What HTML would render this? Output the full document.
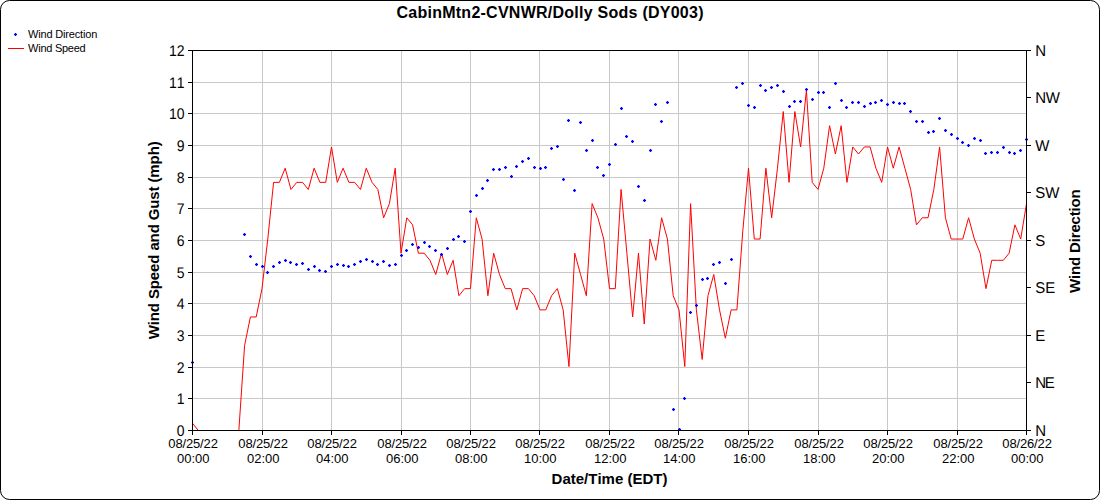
<!DOCTYPE html>
<html><head><meta charset="utf-8"><title>CabinMtn2-CVNWR/Dolly Sods (DY003)</title>
<style>html,body{margin:0;padding:0;background:#fff}body{width:1100px;height:500px;overflow:hidden}svg{display:block}text{font-family:"Liberation Sans",sans-serif;fill:#000;font-kerning:none;font-variant-ligatures:none}</style></head><body>
<svg width="1100" height="500" viewBox="0 0 1100 500">
<rect x="0" y="0" width="1100" height="500" fill="#fff"/>
<rect x="0.5" y="0.5" width="1099" height="499" rx="9" ry="9" fill="none" stroke="#000" stroke-width="1"/>
<path d="M262.5 50.5V430.5M331.5 50.5V430.5M401.5 50.5V430.5M470.5 50.5V430.5M539.5 50.5V430.5M609.5 50.5V430.5M678.5 50.5V430.5M748.5 50.5V430.5M818.5 50.5V430.5M887.5 50.5V430.5M957.5 50.5V430.5M192.5 398.5H1026.5M192.5 367.5H1026.5M192.5 335.5H1026.5M192.5 303.5H1026.5M192.5 272.5H1026.5M192.5 240.5H1026.5M192.5 208.5H1026.5M192.5 177.5H1026.5M192.5 145.5H1026.5M192.5 113.5H1026.5M192.5 82.5H1026.5" stroke="#c8c8c8" stroke-width="1" fill="none" shape-rendering="crispEdges"/>
<polyline points="192.50,423.22 198.29,430.50 204.08,430.50 209.88,430.50 215.67,430.50 221.46,430.50 227.25,430.50 233.04,430.50 238.83,430.50 244.62,345.30 250.42,316.96 256.21,316.96 262.00,288.63 267.79,239.04 273.58,182.37 279.38,182.37 285.17,168.21 290.96,189.46 296.75,182.37 302.54,182.37 308.33,189.46 314.12,168.21 319.92,182.37 325.71,182.37 331.50,146.95 337.29,182.37 343.08,168.21 348.88,182.37 354.67,182.37 360.46,189.46 366.25,168.21 372.04,182.37 377.83,189.46 383.62,217.79 389.42,203.62 395.21,168.21 401.00,253.21 406.79,217.79 412.58,224.87 418.38,253.21 424.17,253.21 429.96,260.29 435.75,274.46 441.54,253.21 447.33,274.46 453.12,260.29 458.92,295.71 464.71,288.63 470.50,288.63 476.29,217.79 482.08,239.04 487.88,295.71 493.67,253.21 499.46,274.46 505.25,288.63 511.04,288.63 516.83,309.88 522.62,288.63 528.42,288.63 534.21,295.71 540.00,309.88 545.79,309.88 551.58,295.71 557.38,288.63 563.17,309.88 568.96,366.55 574.75,253.21 580.54,274.46 586.33,295.71 592.12,203.62 597.92,217.79 603.71,239.04 609.50,288.63 615.29,288.63 621.08,189.46 626.88,253.21 632.67,316.96 638.46,253.21 644.25,324.05 650.04,239.04 655.83,260.29 661.62,217.79 667.42,239.04 673.21,295.71 679.00,309.88 684.79,366.55 690.58,203.62 696.38,309.88 702.17,359.46 707.96,295.71 713.75,274.46 719.54,309.88 725.33,338.21 731.12,309.88 736.92,309.88 742.71,231.96 748.50,168.21 754.29,239.04 760.08,239.04 765.88,168.21 771.67,217.79 777.46,168.21 783.25,111.54 789.04,182.37 794.83,111.54 800.62,146.95 806.42,90.29 812.21,182.37 818.00,189.46 823.79,168.21 829.58,125.70 835.38,154.04 841.17,125.70 846.96,182.37 852.75,146.95 858.54,154.04 864.33,146.95 870.12,146.95 875.92,168.21 881.71,182.37 887.50,146.95 893.29,168.21 899.08,146.95 904.88,168.21 910.67,189.46 916.46,224.87 922.25,217.79 928.04,217.79 933.83,189.46 939.62,146.95 945.42,217.79 951.21,239.04 957.00,239.04 962.79,239.04 968.58,217.79 974.38,239.04 980.17,253.21 985.96,288.63 991.75,260.29 997.54,260.29 1003.33,260.29 1009.12,253.21 1014.92,224.87 1020.71,239.04 1026.50,203.62" fill="none" stroke="#ff0000" stroke-width="1" stroke-linejoin="miter"/>
<defs><g id="d" shape-rendering="crispEdges"><rect x="-1" y="-1" width="3" height="3" fill="#0000ff" fill-opacity="0.28"/><rect x="-1" y="0" width="3" height="1" fill="#0000ff"/><rect x="0" y="-1" width="1" height="3" fill="#0000ff"/></g></defs>
<g><use href="#d" x="192" y="362"/><use href="#d" x="244" y="234"/><use href="#d" x="250" y="256"/><use href="#d" x="256" y="264"/><use href="#d" x="262" y="266"/><use href="#d" x="267" y="272"/><use href="#d" x="273" y="266"/><use href="#d" x="279" y="262"/><use href="#d" x="285" y="260"/><use href="#d" x="290" y="262"/><use href="#d" x="296" y="264"/><use href="#d" x="302" y="263"/><use href="#d" x="308" y="269"/><use href="#d" x="314" y="266"/><use href="#d" x="319" y="270"/><use href="#d" x="325" y="271"/><use href="#d" x="331" y="266"/><use href="#d" x="337" y="264"/><use href="#d" x="343" y="265"/><use href="#d" x="348" y="266"/><use href="#d" x="354" y="264"/><use href="#d" x="360" y="261"/><use href="#d" x="366" y="259"/><use href="#d" x="372" y="261"/><use href="#d" x="377" y="264"/><use href="#d" x="383" y="261"/><use href="#d" x="389" y="265"/><use href="#d" x="395" y="264"/><use href="#d" x="401" y="255"/><use href="#d" x="406" y="250"/><use href="#d" x="412" y="244"/><use href="#d" x="418" y="247"/><use href="#d" x="424" y="242"/><use href="#d" x="429" y="246"/><use href="#d" x="435" y="250"/><use href="#d" x="441" y="254"/><use href="#d" x="447" y="248"/><use href="#d" x="453" y="239"/><use href="#d" x="458" y="236"/><use href="#d" x="464" y="241"/><use href="#d" x="470" y="211"/><use href="#d" x="476" y="195"/><use href="#d" x="482" y="188"/><use href="#d" x="487" y="180"/><use href="#d" x="493" y="169"/><use href="#d" x="499" y="169"/><use href="#d" x="505" y="167"/><use href="#d" x="511" y="176"/><use href="#d" x="516" y="166"/><use href="#d" x="522" y="161"/><use href="#d" x="528" y="158"/><use href="#d" x="534" y="167"/><use href="#d" x="540" y="168"/><use href="#d" x="545" y="167"/><use href="#d" x="551" y="148"/><use href="#d" x="557" y="146"/><use href="#d" x="563" y="179"/><use href="#d" x="568" y="120"/><use href="#d" x="574" y="190"/><use href="#d" x="580" y="122"/><use href="#d" x="586" y="150"/><use href="#d" x="592" y="140"/><use href="#d" x="597" y="167"/><use href="#d" x="603" y="175"/><use href="#d" x="609" y="164"/><use href="#d" x="615" y="144"/><use href="#d" x="621" y="108"/><use href="#d" x="626" y="136"/><use href="#d" x="632" y="141"/><use href="#d" x="638" y="186"/><use href="#d" x="644" y="200"/><use href="#d" x="650" y="150"/><use href="#d" x="655" y="104"/><use href="#d" x="661" y="121"/><use href="#d" x="667" y="102"/><use href="#d" x="673" y="409"/><use href="#d" x="679" y="429"/><use href="#d" x="684" y="398"/><use href="#d" x="690" y="312"/><use href="#d" x="696" y="305"/><use href="#d" x="702" y="279"/><use href="#d" x="707" y="278"/><use href="#d" x="713" y="264"/><use href="#d" x="719" y="262"/><use href="#d" x="725" y="283"/><use href="#d" x="731" y="259"/><use href="#d" x="736" y="87"/><use href="#d" x="742" y="83"/><use href="#d" x="748" y="105"/><use href="#d" x="754" y="107"/><use href="#d" x="760" y="85"/><use href="#d" x="765" y="90"/><use href="#d" x="771" y="87"/><use href="#d" x="777" y="85"/><use href="#d" x="783" y="91"/><use href="#d" x="789" y="106"/><use href="#d" x="794" y="101"/><use href="#d" x="800" y="101"/><use href="#d" x="806" y="89"/><use href="#d" x="812" y="99"/><use href="#d" x="818" y="92"/><use href="#d" x="823" y="92"/><use href="#d" x="829" y="107"/><use href="#d" x="835" y="83"/><use href="#d" x="841" y="100"/><use href="#d" x="846" y="107"/><use href="#d" x="852" y="102"/><use href="#d" x="858" y="102"/><use href="#d" x="864" y="106"/><use href="#d" x="870" y="103"/><use href="#d" x="875" y="102"/><use href="#d" x="881" y="100"/><use href="#d" x="887" y="104"/><use href="#d" x="893" y="102"/><use href="#d" x="899" y="103"/><use href="#d" x="904" y="103"/><use href="#d" x="910" y="111"/><use href="#d" x="916" y="121"/><use href="#d" x="922" y="121"/><use href="#d" x="928" y="132"/><use href="#d" x="933" y="131"/><use href="#d" x="939" y="118"/><use href="#d" x="945" y="130"/><use href="#d" x="951" y="134"/><use href="#d" x="957" y="138"/><use href="#d" x="962" y="142"/><use href="#d" x="968" y="145"/><use href="#d" x="974" y="138"/><use href="#d" x="980" y="140"/><use href="#d" x="985" y="153"/><use href="#d" x="991" y="152"/><use href="#d" x="997" y="152"/><use href="#d" x="1003" y="147"/><use href="#d" x="1009" y="152"/><use href="#d" x="1014" y="153"/><use href="#d" x="1020" y="150"/><use href="#d" x="1026" y="139"/></g>
<path d="M192.5 50.5H1026.5M192.5 430.5H1026.5M192.5 50.5V430.5M1026.5 50.5V430.5M188.0 430.5H192.5M188.0 398.5H192.5M188.0 367.5H192.5M188.0 335.5H192.5M188.0 303.5H192.5M188.0 272.5H192.5M188.0 240.5H192.5M188.0 208.5H192.5M188.0 177.5H192.5M188.0 145.5H192.5M188.0 113.5H192.5M188.0 82.5H192.5M188.0 50.5H192.5M1026.5 50.5H1031.0M1026.5 97.5H1031.0M1026.5 145.5H1031.0M1026.5 192.5H1031.0M1026.5 240.5H1031.0M1026.5 287.5H1031.0M1026.5 335.5H1031.0M1026.5 382.5H1031.0M1026.5 430.5H1031.0M192.5 430.5V435.0M262.5 430.5V435.0M331.5 430.5V435.0M401.5 430.5V435.0M470.5 430.5V435.0M539.5 430.5V435.0M609.5 430.5V435.0M678.5 430.5V435.0M748.5 430.5V435.0M818.5 430.5V435.0M887.5 430.5V435.0M957.5 430.5V435.0M1026.5 430.5V435.0" stroke="#000" stroke-width="1" fill="none" shape-rendering="crispEdges"/>
<text x="396.5" y="18" font-size="16" font-weight="bold" textLength="307" lengthAdjust="spacing">CabinMtn2-CVNWR/Dolly Sods (DY003)</text>
<use href="#d" x="15" y="34"/>
<path d="M8 48.5H24" stroke="#ff0000" stroke-width="1" shape-rendering="crispEdges"/>
<text x="28.1" y="38" font-size="11" textLength="69.2" lengthAdjust="spacing">Wind Direction</text>
<text x="28.1" y="52" font-size="11" textLength="57.6" lengthAdjust="spacing">Wind Speed</text>
<text transform="translate(184.5,435.6) scale(1,1.1)" font-size="14" text-rendering="geometricPrecision" text-anchor="end">0</text>
<text transform="translate(184.5,403.6) scale(1,1.1)" font-size="14" text-rendering="geometricPrecision" text-anchor="end">1</text>
<text transform="translate(184.5,372.6) scale(1,1.1)" font-size="14" text-rendering="geometricPrecision" text-anchor="end">2</text>
<text transform="translate(184.5,340.6) scale(1,1.1)" font-size="14" text-rendering="geometricPrecision" text-anchor="end">3</text>
<text transform="translate(184.5,308.6) scale(1,1.1)" font-size="14" text-rendering="geometricPrecision" text-anchor="end">4</text>
<text transform="translate(184.5,277.6) scale(1,1.1)" font-size="14" text-rendering="geometricPrecision" text-anchor="end">5</text>
<text transform="translate(184.5,245.6) scale(1,1.1)" font-size="14" text-rendering="geometricPrecision" text-anchor="end">6</text>
<text transform="translate(184.5,213.6) scale(1,1.1)" font-size="14" text-rendering="geometricPrecision" text-anchor="end">7</text>
<text transform="translate(184.5,182.6) scale(1,1.1)" font-size="14" text-rendering="geometricPrecision" text-anchor="end">8</text>
<text transform="translate(184.5,150.6) scale(1,1.1)" font-size="14" text-rendering="geometricPrecision" text-anchor="end">9</text>
<text transform="translate(184.5,118.6) scale(1,1.1)" font-size="14" text-rendering="geometricPrecision" text-anchor="end">10</text>
<text transform="translate(184.5,87.6) scale(1,1.1)" font-size="14" text-rendering="geometricPrecision" text-anchor="end">11</text>
<text transform="translate(184.5,55.6) scale(1,1.1)" font-size="14" text-rendering="geometricPrecision" text-anchor="end">12</text>
<text transform="translate(1035.3,55.7) scale(1,1.04)" font-size="15" text-rendering="geometricPrecision">N</text>
<text transform="translate(1035.3,102.7) scale(1,1.04)" font-size="15" text-rendering="geometricPrecision" textLength="24.6" lengthAdjust="spacing">NW</text>
<text transform="translate(1035.3,150.7) scale(1,1.04)" font-size="15" text-rendering="geometricPrecision">W</text>
<text transform="translate(1035.3,197.7) scale(1,1.04)" font-size="15" text-rendering="geometricPrecision">SW</text>
<text transform="translate(1035.3,245.7) scale(1,1.04)" font-size="15" text-rendering="geometricPrecision">S</text>
<text transform="translate(1035.3,292.7) scale(1,1.04)" font-size="15" text-rendering="geometricPrecision">SE</text>
<text transform="translate(1035.3,340.7) scale(1,1.04)" font-size="15" text-rendering="geometricPrecision">E</text>
<text transform="translate(1035.3,387.7) scale(1,1.04)" font-size="15" text-rendering="geometricPrecision" textLength="19.5" lengthAdjust="spacing">NE</text>
<text transform="translate(1035.3,435.7) scale(1,1.04)" font-size="15" text-rendering="geometricPrecision">N</text>
<text x="168.3" y="447.6" font-size="13" textLength="49.6" lengthAdjust="spacing">08/25/22</text>
<text x="193.3" y="462.6" font-size="13" text-anchor="middle">00:00</text>
<text x="238.3" y="447.6" font-size="13" textLength="49.6" lengthAdjust="spacing">08/25/22</text>
<text x="263.3" y="462.6" font-size="13" text-anchor="middle">02:00</text>
<text x="307.3" y="447.6" font-size="13" textLength="49.6" lengthAdjust="spacing">08/25/22</text>
<text x="332.3" y="462.6" font-size="13" text-anchor="middle">04:00</text>
<text x="377.3" y="447.6" font-size="13" textLength="49.6" lengthAdjust="spacing">08/25/22</text>
<text x="402.3" y="462.6" font-size="13" text-anchor="middle">06:00</text>
<text x="446.3" y="447.6" font-size="13" textLength="49.6" lengthAdjust="spacing">08/25/22</text>
<text x="471.3" y="462.6" font-size="13" text-anchor="middle">08:00</text>
<text x="515.3" y="447.6" font-size="13" textLength="49.6" lengthAdjust="spacing">08/25/22</text>
<text x="540.3" y="462.6" font-size="13" text-anchor="middle">10:00</text>
<text x="585.3" y="447.6" font-size="13" textLength="49.6" lengthAdjust="spacing">08/25/22</text>
<text x="610.3" y="462.6" font-size="13" text-anchor="middle">12:00</text>
<text x="654.3" y="447.6" font-size="13" textLength="49.6" lengthAdjust="spacing">08/25/22</text>
<text x="679.3" y="462.6" font-size="13" text-anchor="middle">14:00</text>
<text x="724.3" y="447.6" font-size="13" textLength="49.6" lengthAdjust="spacing">08/25/22</text>
<text x="749.3" y="462.6" font-size="13" text-anchor="middle">16:00</text>
<text x="794.3" y="447.6" font-size="13" textLength="49.6" lengthAdjust="spacing">08/25/22</text>
<text x="819.3" y="462.6" font-size="13" text-anchor="middle">18:00</text>
<text x="863.3" y="447.6" font-size="13" textLength="49.6" lengthAdjust="spacing">08/25/22</text>
<text x="888.3" y="462.6" font-size="13" text-anchor="middle">20:00</text>
<text x="933.3" y="447.6" font-size="13" textLength="49.6" lengthAdjust="spacing">08/25/22</text>
<text x="958.3" y="462.6" font-size="13" text-anchor="middle">22:00</text>
<text x="1002.3" y="447.6" font-size="13" textLength="49.6" lengthAdjust="spacing">08/26/22</text>
<text x="1027.3" y="462.6" font-size="13" text-anchor="middle">00:00</text>
<text x="609.5" y="483.5" font-size="15" font-weight="bold" text-anchor="middle">Date/Time (EDT)</text>
<text id="yt" transform="translate(158.5,339.3) rotate(-90)" font-size="15" font-weight="bold" textLength="198" lengthAdjust="spacing">Wind Speed and Gust (mph)</text>
<text id="y2t" transform="translate(1080.4,293) rotate(-90)" font-size="15" font-weight="bold" textLength="103.8" lengthAdjust="spacing">Wind Direction</text>
</svg></body></html>
